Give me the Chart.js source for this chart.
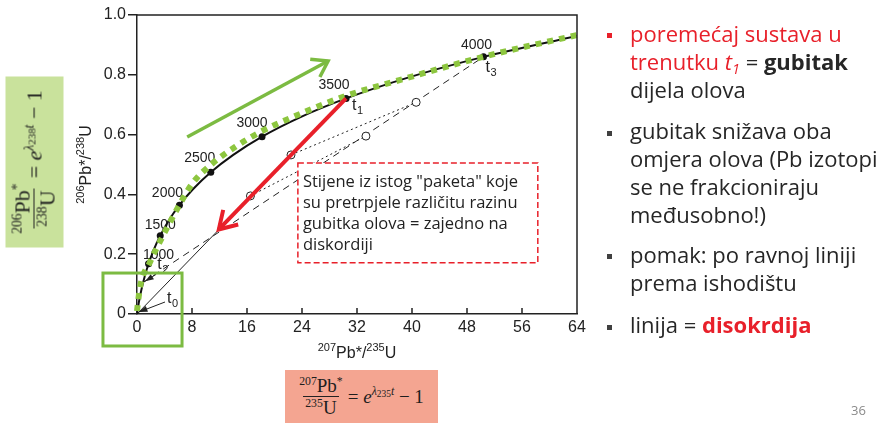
<!DOCTYPE html>
<html>
<head>
<meta charset="utf-8">
<script src="https://cdn.jsdelivr.net/npm/chart.js@4.4.0/dist/chart.umd.min.js"></script>
<style>
  body { margin: 0; background: #fff; width: 892px; height: 425px; overflow: hidden; position: relative; font-family: 'Open Sans', sans-serif; }
  #plot { position: absolute; left: 0; top: 0; }
  .ln { position: absolute; left: 630px; font-size: 22px; line-height: 28px; color: #262626; white-space: nowrap; }
  .ln sub { font-size: 0.65em; line-height: 0; vertical-align: -0.25em; }
  .sq { position: absolute; left: 607px; width: 5px; height: 5px; background: #404040; }
  .red { color: #e8202a; }
  #page { position: absolute; left: 851px; top: 401px; font-size: 13px; color: #8a8a8a; }
  .formula { position: absolute; display: flex; align-items: center; justify-content: center; font-family: 'Liberation Serif', 'DejaVu Serif', serif; color: #1e1e1e; }
  .frac { display: inline-flex; flex-direction: column; align-items: center; line-height: 1.05; margin-right: 5px; }
  .frac .den { border-top: 1px solid #222; padding: 1px 2px 0; }
  .up { font-size: 0.62em; vertical-align: 0.6em; line-height: 0; }
  .lo { font-size: 0.8em; vertical-align: -0.2em; line-height: 0; }
  #fBottom { left: 285px; top: 370px; width: 153px; height: 53px; background: #f4a591; font-size: 19px; }
  #fLeft { left: -51px; top: 133px; width: 171px; height: 58px; background: #c9e29c; font-size: 22px; transform: rotate(-90deg); }
</style>
</head>
<body>
<canvas id="plot" width="892" height="425"></canvas>

<div id="fLeft" class="formula">
  <span class="frac"><span><span class="up">206</span>Pb<span class="up">*</span></span><span class="den"><span class="up">238</span>U</span></span>
  <span>= <i>e</i><span class="up"><i>λ</i><span class="lo">238</span><i>t</i></span> − 1</span>
</div>
<div id="fBottom" class="formula">
  <span class="frac"><span><span class="up">207</span>Pb<span class="up">*</span></span><span class="den"><span class="up">235</span>U</span></span>
  <span>= <i>e</i><span class="up"><i>λ</i><span class="lo">235</span><i>t</i></span> − 1</span>
</div>

<div class="sq" style="top:33px;background:#e8202a"></div>
<div class="ln red" style="top:19px">poremećaj sustava u</div>
<div class="ln" style="top:47px"><span class="red">trenutku <i>t<sub>1</sub></i></span> = <b>gubitak</b></div>
<div class="ln" style="top:75px">dijela olova</div>
<div class="sq" style="top:131px"></div>
<div class="ln" style="top:116px">gubitak snižava oba</div>
<div class="ln" style="top:144px">omjera olova (Pb izotopi</div>
<div class="ln" style="top:172px">se ne frakcioniraju</div>
<div class="ln" style="top:200px">međusobno!)</div>
<div class="sq" style="top:254px"></div>
<div class="ln" style="top:240px">pomak: po ravnoj liniji</div>
<div class="ln" style="top:268px">prema ishodištu</div>
<div class="sq" style="top:325px"></div>
<div class="ln" style="top:310px">linija = <b class="red">disokrdija</b></div>
<div id="page">36</div>

<script>
// ---------- axis ticks ----------
const xTicks = [0, 8, 16, 24, 32, 40, 48, 56, 64];
const yTicks = [0, 0.2, 0.4, 0.6, 0.8, 1.0];

// ---------- concordia: 207Pb*/235U (x) vs 206Pb*/238U (y), every 250 Ma ----------
const concordiaAge = [0, 250, 500, 750, 1000, 1250, 1500, 1750, 2000, 2250, 2500, 2750, 3000, 3250, 3500, 3750, 4000, 4238];
const concordiaX   = [0, 0.28, 0.64, 1.09, 1.68, 2.42, 3.38, 4.60, 6.17, 8.17, 10.73, 14.0, 18.19, 23.55, 30.41, 39.18, 50.40, 64];
const concordiaY   = [0, 0.040, 0.081, 0.123, 0.168, 0.214, 0.262, 0.312, 0.364, 0.418, 0.474, 0.532, 0.593, 0.656, 0.721, 0.789, 0.860, 0.930];
const markedAges   = [1000, 1500, 2000, 2500, 3000, 3500, 4000];

// lower intercept of the t3 discordia (t2)
const t2Ratio = [0.9, 0.106];

// partly degassed samples (open circles)
const sampleX = [16.5, 22.4, 33.3, 40.6];
const sampleY = [0.395, 0.532, 0.595, 0.708];

// highlighted concordia (green dotted)
const greenX = [0, 0.44, 1.9, 3.6, 6.0, 8.1, 10.9, 14.3, 18.2, 23.0, 30.3, 38.3, 50.3, 64];
const greenY = [0.01, 0.09, 0.174, 0.254, 0.358, 0.438, 0.502, 0.559, 0.612, 0.662, 0.729, 0.783, 0.86, 0.933];

// red arrow end (down the discordia) and green arrow (up the concordia)
const redArrowEnd  = [11.9, 0.283];
const greenArrowX  = [7.3, 27.8];
const greenArrowY  = [0.592, 0.846];

// boxes, in axis units
const greenBoxX = [-4.95, 6.55];
const greenBoxY = [-0.107, 0.137];
const noteBoxX  = [23.4, 58.3];
const noteBoxY  = [0.171, 0.505];
const noteLines = ['Stijene iz istog "paketa" koje', 'su pretrpjele različitu razinu', 'gubitka olova = zajedno na', 'diskordiji'];

// ---------- layout-only offsets (px) ----------
const ageLabelShift = [[10, -9], [0, -11], [-12, -12], [-11, -14], [-10, -14], [-12, -13], [-7, -12]];

const RED = '#e8202a';
const GREEN = '#7cbb42';
const INK = '#222';
const FONT = '"Liberation Sans", Arial, sans-serif';

const ageIdx = a => concordiaAge.indexOf(a);
const zip = (xs, ys) => xs.map((x, i) => ({ x, y: ys[i] }));
const at = a => ({ x: concordiaX[ageIdx(a)], y: concordiaY[ageIdx(a)] });
const samples = zip(sampleX, sampleY);
const t0 = { x: 0, y: 0 };
const t1 = at(3500);
const t3 = at(4000);
const t2 = { x: t2Ratio[0], y: t2Ratio[1] };

function arrowHead(g, x0, y0, x1, y1, len, spread, filled) {
  const a = Math.atan2(y1 - y0, x1 - x0);
  g.beginPath();
  g.moveTo(x1 - len * Math.cos(a - spread), y1 - len * Math.sin(a - spread));
  g.lineTo(x1, y1);
  g.lineTo(x1 - len * Math.cos(a + spread), y1 - len * Math.sin(a + spread));
  if (filled) { g.closePath(); g.fill(); } else g.stroke();
}

// text with superscripts, centred on (cx, cy)
function supText(g, parts, cx, cy, size) {
  const big = size + 'px ' + FONT, small = Math.round(size * 0.68) + 'px ' + FONT;
  let w = 0;
  parts.forEach(p => { g.font = p.sup ? small : big; w += g.measureText(p.t).width; });
  let x = cx - w / 2;
  g.textAlign = 'left';
  g.textBaseline = 'middle';
  parts.forEach(p => {
    g.font = p.sup ? small : big;
    g.fillText(p.t, x, p.sup ? cy - size * 0.38 : cy);
    x += g.measureText(p.t).width;
  });
}

function tLabel(g, sub, px, py) {
  g.textAlign = 'left';
  g.textBaseline = 'alphabetic';
  g.font = '16px ' + FONT;
  g.fillText('t', px, py);
  const w = g.measureText('t').width;
  g.font = '11px ' + FONT;
  g.fillText(sub, px + w + 0.5, py + 4);
}

const decor = {
  id: 'decor',
  beforeDatasetsDraw(chart) {
    const { ctx: g, scales: { x, y } } = chart;
    g.save();
    g.fillStyle = INK;
    g.font = '14px ' + FONT;
    g.textAlign = 'center';
    g.textBaseline = 'middle';
    markedAges.forEach((a, i) => {
      const p = at(a);
      g.fillText(String(a), x.getPixelForValue(p.x) + ageLabelShift[i][0], y.getPixelForValue(p.y) + ageLabelShift[i][1]);
    });
    g.restore();
  },
  afterDatasetsDraw(chart) {
    const { ctx: g, chartArea: ca, scales: { x, y } } = chart;
    const X = v => x.getPixelForValue(v), Y = v => y.getPixelForValue(v);
    g.save();

    // frame + inward x ticks
    g.strokeStyle = INK;
    g.lineWidth = 1.5;
    g.beginPath();
    g.moveTo(ca.left, ca.top);
    g.lineTo(ca.right, ca.top);
    g.lineTo(ca.right, ca.bottom);
    xTicks.slice(1, -1).forEach(v => { g.moveTo(X(v), ca.bottom); g.lineTo(X(v), ca.bottom - 6); });
    g.stroke();

    // red arrow head
    g.strokeStyle = RED;
    g.lineWidth = 4;
    g.lineJoin = 'miter';
    arrowHead(g, X(t1.x), Y(t1.y), X(redArrowEnd[0]), Y(redArrowEnd[1]), 20, 0.55, false);

    // green arrow head
    g.strokeStyle = GREEN;
    g.lineWidth = 3.5;
    arrowHead(g, X(greenArrowX[0]), Y(greenArrowY[0]), X(greenArrowX[1]), Y(greenArrowY[1]), 18, 0.6, false);

    // t labels and pointers
    g.fillStyle = INK;
    g.strokeStyle = INK;
    g.lineWidth = 1;
    tLabel(g, '1', X(t1.x) + 6, Y(t1.y) + 12);
    tLabel(g, '3', X(t3.x) + 2, Y(t3.y) + 15);
    tLabel(g, '2', X(t2.x) + 14, Y(t2.y) - 13);
    tLabel(g, '0', X(t0.x) + 30, Y(t0.y) - 11);
    [[t2, 13, -8, 2, -1], [t0, 28, -12, 2, -2]].forEach(([p, tx, ty, hx, hy]) => {
      const x0 = X(p.x) + tx, y0 = Y(p.y) + ty, x1 = X(p.x) + hx, y1 = Y(p.y) + hy;
      g.beginPath(); g.moveTo(x0, y0); g.lineTo(x1, y1); g.stroke();
      arrowHead(g, x0, y0, x1, y1, 9, 0.35, true);
    });

    // note box
    const bx = X(noteBoxX[0]), by = Y(noteBoxY[1]), bw = X(noteBoxX[1]) - bx, bh = Y(noteBoxY[0]) - by;
    g.fillStyle = '#fff';
    g.fillRect(bx, by, bw, bh);
    g.setLineDash([6, 3]);
    g.strokeStyle = RED;
    g.lineWidth = 1.5;
    g.strokeRect(bx, by, bw, bh);
    g.setLineDash([]);
    g.fillStyle = INK;
    g.font = '16.5px "Open Sans", sans-serif';
    g.textAlign = 'left';
    g.textBaseline = 'middle';
    noteLines.forEach((s, i) => g.fillText(s, bx + 5, by + 19 + i * 21));

    // green frame around the origin
    g.strokeStyle = GREEN;
    g.lineWidth = 3;
    g.strokeRect(X(greenBoxX[0]), Y(greenBoxY[1]), X(greenBoxX[1]) - X(greenBoxX[0]), Y(greenBoxY[0]) - Y(greenBoxY[1]));
    g.restore();
  },
  afterDraw(chart) {
    const { ctx: g, chartArea: ca } = chart;
    g.save();
    g.fillStyle = INK;
    supText(g, [{ t: '207', sup: true }, { t: 'Pb*/' }, { t: '235', sup: true }, { t: 'U' }], (ca.left + ca.right) / 2, 354, 16);
    g.translate(87, (ca.top + ca.bottom) / 2);
    g.rotate(-Math.PI / 2);
    supText(g, [{ t: '206', sup: true }, { t: 'Pb*/' }, { t: '238', sup: true }, { t: 'U' }], 0, 0, 16);
    g.restore();
  }
};

const line = (data, color, width, extra) => Object.assign({
  data, showLine: true, borderColor: color, borderWidth: width, pointRadius: 0, fill: false
}, extra);

new Chart(document.getElementById('plot'), {
  type: 'scatter',
  data: {
    datasets: [
      line([t1, { x: redArrowEnd[0], y: redArrowEnd[1] }], RED, 4, { order: 0 }),
      line(zip(greenArrowX, greenArrowY), GREEN, 3.5, { order: 1, clip: false }),
      line(zip(greenX, greenY), '#8dc63f', 6, { order: 2, clip: false, borderDash: [6, 6], cubicInterpolationMode: 'monotone' }),
      { data: samples, order: 3, pointRadius: 4, pointBackgroundColor: '#fff', pointBorderColor: INK, pointBorderWidth: 1 },
      { data: markedAges.map(at), order: 4, pointRadius: 3.5, pointBackgroundColor: '#111', pointBorderWidth: 0 },
      line(zip(concordiaX, concordiaY), '#111', 2, { order: 5, cubicInterpolationMode: 'monotone' }),
      line([t0, t1], INK, 1, { order: 6 }),
      line([t2, t3], INK, 1, { order: 7, borderDash: [7, 5] }),
      line([samples[0], samples[2]], INK, 1, { order: 8, borderDash: [2, 3] }),
      line([samples[1], samples[3]], INK, 1, { order: 8, borderDash: [2, 3] })
    ]
  },
  options: {
    responsive: false,
    animation: false,
    events: [],
    layout: { padding: { left: 0, right: 315, top: 15, bottom: 0 } },
    plugins: { legend: { display: false }, tooltip: { enabled: false } },
    scales: {
      x: {
        type: 'linear', min: 0, max: 64,
        afterFit(s) { s.height = 111; },
        afterBuildTicks(s) { s.ticks = xTicks.map(v => ({ value: v })); },
        ticks: { font: { family: FONT, size: 16 }, color: INK, padding: 4, maxRotation: 0 },
        grid: { drawOnChartArea: false, drawTicks: false },
        border: { color: INK, width: 1.5 }
      },
      y: {
        min: 0, max: 1,
        afterFit(s) { s.width = 137; },
        afterBuildTicks(s) { s.ticks = yTicks.map(v => ({ value: v })); },
        ticks: { font: { family: FONT, size: 16 }, color: INK, padding: 2, callback: v => v === 0 ? '0' : v.toFixed(1) },
        grid: { drawOnChartArea: false, tickLength: 9, color: INK, lineWidth: 1.5 },
        border: { color: INK, width: 1.5 }
      }
    }
  },
  plugins: [decor]
});
</script>
</body>
</html>
